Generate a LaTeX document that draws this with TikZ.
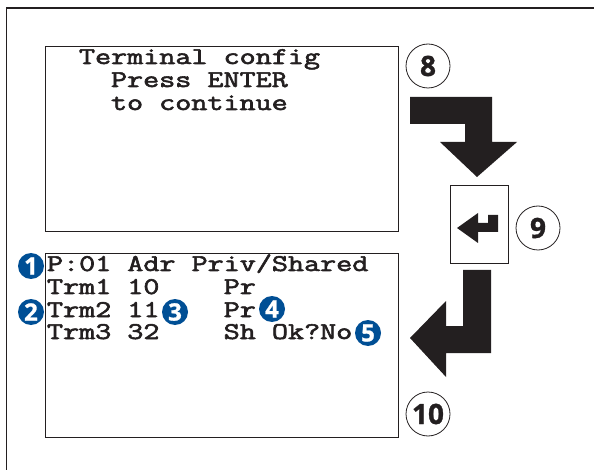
\documentclass[tikz,border=0pt]{standalone}
\usepackage{fontspec}
\newfontfamily\numfont[FakeBold=1]{Open Sans}
\newfontfamily\lcdfont[FakeBold=2.2]{Latin Modern Mono}
\definecolor{ink}{HTML}{231F20}
\definecolor{badgeblue}{HTML}{004F95}
\tikzset{
  screen/.style={draw=ink,line width=1.2pt,fill=white},
  lcd/.style={anchor=base west,inner sep=0pt,outer sep=0pt,text=ink,xscale=1.3,transform shape,font=\fontsize{24}{24}\selectfont\lcdfont},
  badge/.style={circle,fill=badgeblue,text=white,inner sep=0pt,minimum size=26pt,font=\fontsize{24}{24}\selectfont\numfont\bfseries},
  step circle/.style={circle,draw=ink,line width=0.8pt,text=ink,inner sep=0pt,minimum size=44pt,font=\fontsize{28}{28}\selectfont\numfont\bfseries},
  bigarrow/.style={fill=ink,draw=none}
}
\begin{document}
\begin{tikzpicture}[x=1pt,y=-1pt]
\useasboundingbox (0,0) rectangle (594,470);
\draw[ink,line width=1.2pt] (594,8) -- (6.5,8) -- (6.5,470);
\node[screen,anchor=north west,minimum width=353pt,minimum height=185pt,inner sep=0pt] (top) at (45,46) {};
\node[screen,anchor=north west,minimum width=353pt,minimum height=184pt,inner sep=0pt] (bot) at (45,253) {};
\node[lcd] (t1) at (79,64) {Terminal config};
\node[lcd] (t2) at (111,87) {Press ENTER};
\node[lcd] (t3) at (111,110) {to continue};
\node[lcd] (l1) at (47,271) {P:01 Adr Priv/Shared};
\node[lcd] (l2) at (47,294) {Trm1 10~~~~Pr};
\node[lcd] (l3) at (47,317) {Trm2 11~~~~Pr};
\node[lcd] (l4) at (47,339) {Trm3 32~~~~Sh Ok?No};
\node[badge] (b1) at (31,266) {1};
\node[badge] (b2) at (31,312) {2};
\node[badge] (b3) at (175,312) {3};
\node[badge] (b4) at (272,309) {4};
\node[badge] (b5) at (368,333) {5};
\node[step circle] (s8) at (428,66) {8};
\node[step circle] (s9) at (538,228) {9};
\node[step circle] (s10) at (428,414) {10};
\node[draw=ink,line width=0.9pt,anchor=north west,minimum width=58pt,minimum height=78pt,inner sep=0pt] (enter) at (450,185) {};
\fill[ink] (457,228) -- (478,213) -- (478,223) -- (488,223) -- (488,215) -- (498,215) -- (498,232) -- (478,232) -- (478,243) -- cycle;
\fill[bigarrow] (410,97) -- (492,97) -- (492,142) -- (517,142) -- (477,177) -- (440,142) -- (465,142) -- (465,124) -- (410,124) -- cycle;
\fill[bigarrow] (463,270) -- (491,270) -- (491,353) -- (446,353) -- (446,377) -- (410,338) -- (446,301) -- (446,326) -- (463,326) -- cycle;
\end{tikzpicture}
\end{document}
